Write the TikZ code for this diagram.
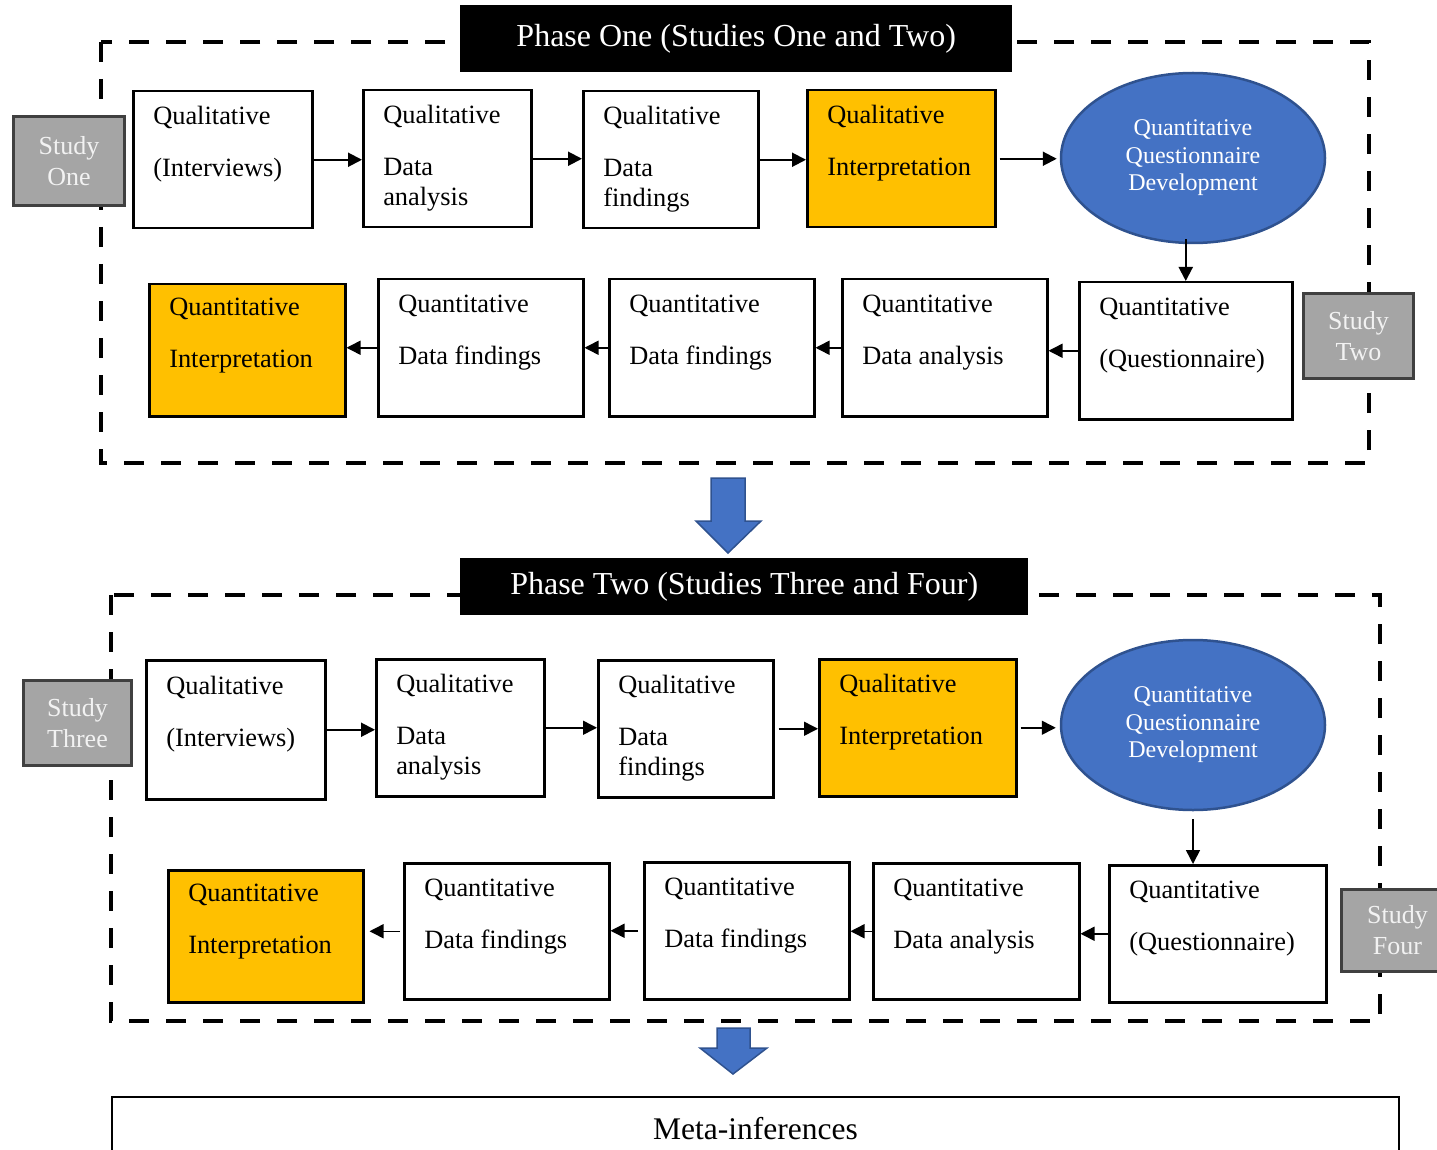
\documentclass[tikz,border=0pt]{standalone}
\usepackage{fontspec}
\setmainfont{Liberation Serif}
\usetikzlibrary{arrows.meta,shapes.geometric}
\definecolor{interp}{HTML}{FFC000}
\definecolor{devblue}{HTML}{4472C4}
\definecolor{devedge}{HTML}{2F528F}
\definecolor{studygray}{HTML}{A5A5A5}
\definecolor{studyedge}{HTML}{404040}

\begin{document}
\begin{tikzpicture}[x=1pt, y=-1pt,
  stagebox/.style={draw, line width=2.5pt, fill=white, anchor=north west, align=flush left,
    inner xsep=20pt, inner ysep=0pt, minimum height=137pt, font=\fontsize{26.4}{30}\selectfont},
  interpbox/.style={stagebox, fill=interp},
  studybox/.style={draw=studyedge, fill=studygray, line width=3pt, text=white!95!black,
    anchor=north west, align=center, font=\fontsize{26}{31}\selectfont},
  devnode/.style={ellipse, draw=devedge, fill=devblue, line width=2.5pt, minimum width=264pt,
    minimum height=170pt, text=white, align=center, font=\fontsize{24}{27.5}\selectfont},
  phasetitle/.style={fill=black, text=white, anchor=north west, font=\fontsize{32}{36}\selectfont},
  phaseframe/.style={line width=4.5pt, dash pattern=on 20pt off 17pt},
  flow/.style={-{Triangle[length=14pt,width=14pt]}, line width=2pt},
  bigarrow/.style={fill=devblue, draw=devedge, line width=1.5pt}]
  \useasboundingbox (0,0) rectangle (1437,1150);

  % Phase one frame
  \draw[phaseframe] (101,42) rectangle (1369,463);
  \node[phasetitle, minimum width=552pt, minimum height=67pt] (t1) at (460,5) {Phase One (Studies One and Two)};

  % Phase one nodes
  \node[studybox, minimum width=111pt, minimum height=89pt] (s1) at (12,115) {Study\\One};
  \node[stagebox, text width=139pt] (b1) at (132,90) {\strut Qualitative\\[22pt](Interviews)\\\strut};
  \node[stagebox, text width=128pt] (b2) at (362,89) {\strut Qualitative\\[22pt]Data\\analysis\strut};
  \node[stagebox, text width=135pt] (b3) at (582,90) {\strut Qualitative\\[22pt]Data\\findings\strut};
  \node[interpbox, text width=148pt] (b4) at (806,89) {\strut Qualitative\\[22pt]Interpretation\\\strut};
  \node[devnode] (e1) at (1193,158) {Quantitative\\Questionnaire\\Development};
  \node[stagebox, text width=173pt] (q1) at (1078,281) {\strut Quantitative\\[22pt](Questionnaire)\\\strut};
  \node[stagebox, text width=165pt] (q2) at (841,278) {\strut Quantitative\\[22pt]Data analysis\\\strut};
  \node[stagebox, text width=165pt] (q3) at (608,278) {\strut Quantitative\\[22pt]Data findings\\\strut};
  \node[stagebox, text width=165pt] (q4) at (377,278) {\strut Quantitative\\[22pt]Data findings\\\strut};
  \node[interpbox, text width=156pt, minimum height=132pt] (q5) at (148,283) {\strut Quantitative\\[22pt]Interpretation\\\strut};
  \node[studybox, minimum width=110pt, minimum height=85pt] (s2) at (1302,292) {Study\\Two};

  % Phase one edges
  \draw[flow] (b1.east) -- (b1.east -| b2.west);
  \draw[flow] (b2.east) -- (b2.east -| b3.west);
  \draw[flow] (b3.east) -- (b3.east -| b4.west);
  \draw[flow, shorten <=3pt, shorten >=3pt] (b4.east) -- (b4.east -| e1.west);
  \draw[flow] ([yshift=5pt]e1.south -| q1.north) -- (q1.north);
  \draw[flow, line width=1.5pt] (q1.west) -- (q1.west -| q2.east);
  \draw[flow, line width=1.5pt] (q2.west) -- (q2.west -| q3.east);
  \draw[flow, line width=1.5pt] (q3.west) -- (q3.west -| q4.east);
  \draw[flow, line width=1.5pt] (q4.west) -- (q4.west -| q5.east);

  % Between phases
  \draw[bigarrow] (711,478) -- (745,478) -- (745,521) -- (761,521) -- (728,553) -- (696,521) -- (711,521) -- cycle;

  % Phase two frame
  \draw[phaseframe] (111,595) rectangle (1380,1021);
  \node[phasetitle, minimum width=568pt, minimum height=57pt] (t2) at (460,558) {Phase Two (Studies Three and Four)};

  % Phase two nodes
  \node[studybox, minimum width=108pt, minimum height=85pt] (s3) at (22,679) {Study\\Three};
  \node[stagebox, text width=139pt, minimum height=139pt] (c1) at (145,659) {\strut Qualitative\\[22pt](Interviews)\\\strut};
  \node[stagebox, text width=128pt] (c2) at (375,658) {\strut Qualitative\\[22pt]Data\\analysis\strut};
  \node[stagebox, text width=135pt] (c3) at (597,659) {\strut Qualitative\\[22pt]Data\\findings\strut};
  \node[interpbox, text width=157pt] (c4) at (818,658) {\strut Qualitative\\[22pt]Interpretation\\\strut};
  \node[devnode] (e2) at (1193,725) {Quantitative\\Questionnaire\\Development};
  \node[stagebox, text width=177pt] (d1) at (1108,864) {\strut Quantitative\\[22pt](Questionnaire)\\\strut};
  \node[stagebox, text width=166pt, minimum height=136pt] (d2) at (872,862) {\strut Quantitative\\[22pt]Data analysis\\\strut};
  \node[stagebox, text width=165pt] (d3) at (643,861) {\strut Quantitative\\[22pt]Data findings\\\strut};
  \node[stagebox, text width=165pt, minimum height=136pt] (d4) at (403,862) {\strut Quantitative\\[22pt]Data findings\\\strut};
  \node[interpbox, text width=155pt, minimum height=132pt] (d5) at (167,869) {\strut Quantitative\\[22pt]Interpretation\\\strut};
  \node[studybox, minimum width=112pt, minimum height=82pt] (s4) at (1340,888) {Study\\Four};

  % Phase two edges
  \draw[flow] (c1.east) -- (c1.east -| c2.west);
  \draw[flow, line width=1.5pt] (c2.east) -- (c2.east -| c3.west);
  \draw[flow, line width=1.5pt, shorten <=4pt] (c3.east) -- (c3.east -| c4.west);
  \draw[flow, line width=1.5pt, shorten <=3pt, shorten >=4pt] (c4.east) -- (c4.east -| e2.west);
  \draw[flow, line width=1.5pt] ([yshift=-8pt]e2.south) -- (e2.south |- d1.north);
  \draw[flow, line width=1.5pt] (d1.west) -- (d1.west -| d2.east);
  \draw[flow, line width=1.5pt] (d2.west) -- (d2.west -| d3.east);
  \draw[flow, line width=1.5pt, shorten <=5pt] (d3.west) -- (d3.west -| d4.east);
  \draw[flow, line width=1.5pt, shorten <=3pt, shorten >=5pt] (d4.west) -- (d4.west -| d5.east);

  % Towards meta-inferences
  \draw[bigarrow] (717,1028) -- (750,1028) -- (750,1048) -- (767,1048) -- (733,1074) -- (700,1048) -- (717,1048) -- cycle;
  \node[draw, line width=2pt, anchor=north west, minimum width=1287pt, minimum height=64pt,
    font=\fontsize{31.5}{36}\selectfont] (meta) at (111,1096) {Meta-inferences};
\end{tikzpicture}
\end{document}
